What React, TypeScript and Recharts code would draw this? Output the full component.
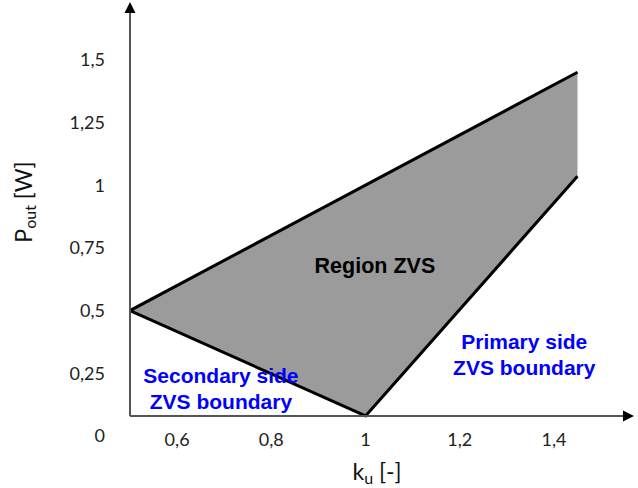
import { ComposedChart, Area, XAxis, YAxis, ReferenceLine, ReferenceDot } from 'recharts';

// ZVS region corners
const ku = [0.5, 1, 1.45];
const pLow = [0.5, 0.08, 1.035];
const pHigh = [0.5, 1, 1.45];

const xTicks = [0.6, 0.8, 1, 1.2, 1.4];
const yTicks = [0, 0.25, 0.5, 0.75, 1, 1.25, 1.5];

const X_MIN = 0.5;
const X_MAX = 1.57;
const Y_MAX = 1.73;
const AXIS_Y = 0.08; // the drawn horizontal axis sits a bit above 0

const notes = [
  { x: 1.02, y: 0.649, lines: ['Region ZVS'], color: '#000', size: 21.5 },
  { x: 0.693, y: 0.213, lines: ['Secondary side', 'ZVS boundary'], color: '#0000ff', size: 21 },
  { x: 1.337, y: 0.345, lines: ['Primary side', 'ZVS boundary'], color: '#0000ff', size: 21 },
];

const data = ku.map((k, i) => ({ ku: k, range: [pLow[i], pHigh[i]] }));

const fmt = (v: number) => String(v).replace('.', ',');

const tickStyle = { fill: '#222', fontSize: 18, fontFamily: 'Lato' };

const ArrowLine = (p: any) => {
  const { x1, y1, x2, y2 } = p;
  const len = Math.hypot(x2 - x1, y2 - y1) || 1;
  const ux = (x2 - x1) / len;
  const uy = (y2 - y1) / len;
  const head = 11;
  const half = 5.5;
  const bx = x2 - ux * head;
  const by = y2 - uy * head;
  return (
    <g>
      <line x1={x1} y1={y1} x2={bx} y2={by} stroke="#555" strokeWidth={2} />
      <polygon
        points={`${x2},${y2} ${bx - uy * half},${by + ux * half} ${bx + uy * half},${by - ux * half}`}
        fill="#000"
      />
    </g>
  );
};

const noteLabel = (n: typeof notes[number]) => (props: any) => {
  const { x, y } = props.viewBox;
  return (
    <text
      x={x}
      y={y}
      textAnchor="middle"
      fill={n.color}
      fontSize={n.size}
      fontWeight="bold"
      fontFamily="'Liberation Sans', Arial, sans-serif"
    >
      {n.lines.map((l, i) => (
        <tspan key={i} x={x} dy={i === 0 ? 0 : 26}>
          {l}
        </tspan>
      ))}
    </text>
  );
};

const XTitle = (props: any) => {
  const { x, width } = props.viewBox;
  return (
    <text x={x + width / 2 - 5} y={480} textAnchor="middle" fontSize={23} fontFamily="Lato" fill="#111">
      k<tspan fontSize={16} dy={4}>u</tspan>
      <tspan dy={-4}> [-]</tspan>
    </text>
  );
};

const YTitle = (props: any) => {
  const { y, height } = props.viewBox;
  const cy = y + height / 2 - 17;
  return (
    <text
      x={32}
      y={cy}
      transform={`rotate(-90 32 ${cy})`}
      textAnchor="middle"
      fontSize={23}
      fontFamily="Lato"
      fill="#111"
    >
      P<tspan fontSize={16} dy={4}>out</tspan>
      <tspan dy={-4}> [W]</tspan>
    </text>
  );
};

export default function App() {
  return (
    <div style={{ width: 638, height: 488 }}>
      <style>{'body{margin:0}'}</style>
      <ComposedChart width={638} height={488} data={data} margin={{ top: 2, right: 4, bottom: 0, left: 0 }}>
        <XAxis
          type="number"
          dataKey="ku"
          domain={[X_MIN, X_MAX]}
          ticks={xTicks}
          allowDataOverflow
          axisLine={false}
          tickLine={false}
          tickSize={0}
          tickMargin={-3}
          tickFormatter={fmt}
          tick={tickStyle}
          height={52}
          label={{ content: XTitle }}
        />
        <YAxis
          type="number"
          domain={[0, Y_MAX]}
          ticks={yTicks}
          allowDataOverflow
          axisLine={false}
          tickLine={false}
          tickSize={0}
          tickMargin={25}
          tickFormatter={fmt}
          tick={tickStyle}
          width={130}
          label={{ content: YTitle }}
        />
        <ReferenceLine segment={[{ x: X_MIN, y: AXIS_Y }, { x: X_MAX, y: AXIS_Y }]} shape={ArrowLine} />
        <ReferenceLine segment={[{ x: X_MIN, y: AXIS_Y }, { x: X_MIN, y: Y_MAX }]} shape={ArrowLine} />
        <Area
          type="linear"
          dataKey="range"
          fill="#9b9b9b"
          fillOpacity={1}
          stroke="#000"
          strokeWidth={3}
          strokeLinejoin="round"
          isAnimationActive={false}
        />
        {notes.map((n, i) => (
          <ReferenceDot key={i} x={n.x} y={n.y} r={0} stroke="none" fill="none" label={{ content: noteLabel(n) }} />
        ))}
      </ComposedChart>
    </div>
  );
}
